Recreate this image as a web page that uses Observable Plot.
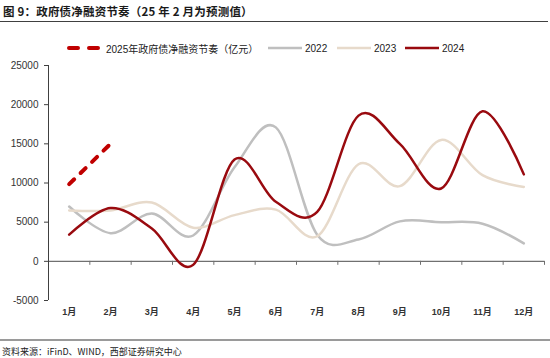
<!DOCTYPE html>
<html>
<head>
<meta charset="utf-8">
<script src="https://cdn.jsdelivr.net/npm/d3@7"></script>
<script src="https://cdn.jsdelivr.net/npm/@observablehq/plot@0.6"></script>
<style>
  html, body { margin: 0; padding: 0; background: #fff; }
  #wrap { position: relative; width: 550px; height: 358px; overflow: hidden; font-family: "Liberation Sans", Arial, "Noto Sans CJK SC", sans-serif; }
  #title { position: absolute; left: 3px; top: 3px; font-size: 11.5px; font-weight: bold; color: #1a1a1a; font-family: "Noto Sans CJK SC", sans-serif; white-space: nowrap; letter-spacing: 0.2px; }
  #tline { position: absolute; left: 0; top: 21px; width: 548px; height: 0; border-top: 1.5px solid #404040; }
  #legend { position: absolute; left: 0; top: 41px; width: 550px; height: 14px; font-size: 10px; color: #222; }
  .li { position: absolute; top: 0; display: flex; align-items: center; height: 14px; white-space: nowrap; }
  .li svg { display: block; margin-right: 4px; }
  #chart { position: absolute; left: 0; top: 55px; }
  #bline { position: absolute; left: 0; top: 339px; width: 550px; height: 0; border-top: 2px solid #9a9a9a; }
  #source { position: absolute; left: 2px; top: 345px; font-size: 9px; color: #222; white-space: nowrap; font-family: "Noto Sans CJK SC", sans-serif; }
</style>
</head>
<body>
<div id="wrap">
  <div id="title">图 9：政府债净融资节奏（25 年 2 月为预测值）</div>
  <div id="tline"></div>
  <div id="legend"></div>
  <div id="chart"></div>
  <div id="bline"></div>
  <div id="source">资料来源：iFinD、WIND，西部证券研究中心</div>
</div>
<script>
const months = ["1月","2月","3月","4月","5月","6月","7月","8月","9月","10月","11月","12月"];
const y2025 = [9850, 15000];
const y2022 = [7000, 3600, 6100, 3300, 12000, 17100, 3400, 2800, 5100, 5000, 4800, 2300];
const y2023 = [6500, 6500, 7500, 4300, 5900, 6600, 3200, 12400, 9600, 15500, 11000, 9500];
const y2024 = [3400, 6800, 4200, -450, 13000, 7600, 6300, 18600, 15000, 9300, 19150, 11100];
const yTicks = [-5000, 0, 5000, 10000, 15000, 20000, 25000];

const seriesNames = ["2025年政府债净融资节奏（亿元）", "2022", "2023", "2024"];
const seriesColors = ["#C00000", "#BFBFBF", "#E7DACB", "#990A0F"];

const toRows = (arr) => arr.map((v, i) => ({m: i + 1, v}));
const bounds = d3.range(0, months.length + 1).map(i => i + 0.5);

const fontFam = '"Liberation Sans", Arial, "Noto Sans CJK SC", sans-serif';

const plot = Plot.plot({
  width: 550,
  height: 275,
  marginLeft: 48,
  marginRight: 6,
  marginTop: 10,
  marginBottom: 30,
  style: {fontFamily: fontFam, color: "#333", background: "transparent"},
  x: {type: "linear", domain: [0.5, months.length + 0.5]},
  y: {domain: [-5000, 25000]},
  marks: [
    Plot.ruleY([0], {stroke: "#707070", strokeWidth: 1.2}),
    Plot.ruleX(bounds.slice(1), {x: d => d, y1: 0, y2: 0, insetBottom: -4, stroke: "#707070", strokeWidth: 1}),
    Plot.ruleX([bounds[0]], {stroke: "#404040", strokeWidth: 1}),
    Plot.axisY({ticks: yTicks, tickSize: 4, tickPadding: 6, fontSize: 10, tickFormat: d => String(d), stroke: "#404040", label: null}),
    Plot.axisX({ticks: d3.range(1, months.length + 1), tickSize: 0, tickPadding: 8, fontSize: 9, fontWeight: "bold", tickFormat: d => months[d - 1], label: null}),
    Plot.line(toRows(y2022), {x: "m", y: "v", stroke: seriesColors[1], strokeWidth: 2.5, curve: "cardinal"}),
    Plot.line(toRows(y2023), {x: "m", y: "v", stroke: seriesColors[2], strokeWidth: 2.5, curve: "cardinal"}),
    Plot.line(toRows(y2024), {x: "m", y: "v", stroke: seriesColors[3], strokeWidth: 2.5, curve: "cardinal"}),
    Plot.line(toRows(y2025), {x: "m", y: "v", stroke: seriesColors[0], strokeWidth: 4, strokeDasharray: "7,9", strokeLinecap: "round"})
  ]
});
document.getElementById("chart").appendChild(plot);

// legend
const legend = document.getElementById("legend");
const lefts = [67, 268, 337, 405];
seriesNames.forEach((name, i) => {
  const item = document.createElement("div");
  item.className = "li";
  item.style.left = lefts[i] + "px";
  const dashed = i === 0;
  const w = dashed ? 33 : 34;
  const sw = dashed
    ? `<svg width="${w}" height="8"><line x1="2" y1="4" x2="31" y2="4" stroke="${seriesColors[i]}" stroke-width="4" stroke-dasharray="9,11" stroke-linecap="round"/></svg>`
    : `<svg width="${w}" height="8"><line x1="0" y1="4" x2="34" y2="4" stroke="${seriesColors[i]}" stroke-width="2.5"/></svg>`;
  item.innerHTML = sw + `<span style="margin-left:${dashed ? 2 : -1}px">${name}</span>`;
  legend.appendChild(item);
});
</script>
</body>
</html>
